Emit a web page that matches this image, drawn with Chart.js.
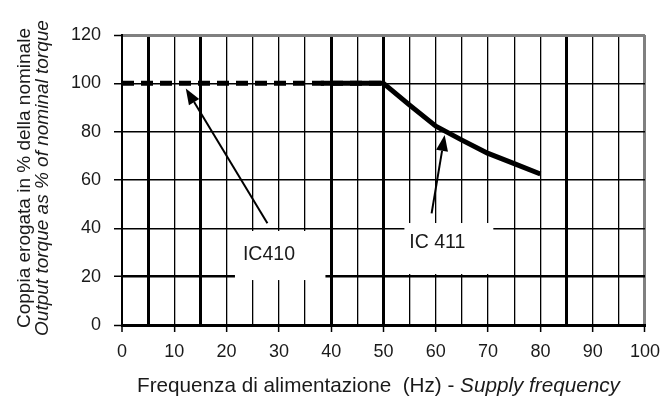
<!DOCTYPE html>
<html>
<head>
<meta charset="utf-8">
<script src="https://cdn.jsdelivr.net/npm/chart.js@4.4.1/dist/chart.umd.min.js"></script>
<style>
  html, body { margin: 0; padding: 0; background: #fff; }
  #wrap { position: relative; width: 669px; height: 401px; font-family: "Liberation Sans", Arial, sans-serif; color: #1a1a1a; }
  #yTitle { position: absolute; width: 340px; height: 36px; left: -137px; top: 160px; transform: rotate(-90deg);
            text-align: center; font-size: 19px; line-height: 18px; white-space: nowrap; }
  #xTitle { position: absolute; left: 137px; top: 373px; font-size: 20.7px; white-space: nowrap; }
  i { font-style: italic; }
</style>
</head>
<body>
<div id="wrap">
  <canvas id="chart" width="669" height="401"></canvas>
  <div id="yTitle">Coppia erogata in % della nominale<br><i>Output torque as % of nominal torque</i></div>
  <div id="xTitle">Frequenza di alimentazione&nbsp; (Hz) - <i>Supply frequency</i></div>
</div>
<script>
// curve data
const ic410Freq = [0, 50];
const ic410Torque = [100, 100];
const ic411Freq = [38, 50, 55, 60, 65, 70, 75, 80];
const ic411Torque = [100, 100, 91, 82.3, 76.5, 71, 66.8, 62.5];

// callouts (data coordinates)
const calloutText = ['IC410', 'IC 411'];
const calloutX = [28.1, 60.3];
const calloutY = [29.2, 34.1];
const boxLeft = [21.6, 54];
const boxRight = [38.9, 71];
const boxBottom = [18.6, 21.1];
const boxTop = [38.9, 42.2];
const arrowTailX = [27.8, 59.2];
const arrowTailY = [42.1, 46.2];
const arrowTipX = [12.2, 61.7];
const arrowTipY = [97.9, 78.6];

const thickX = [5, 15, 40, 50, 85];

const toPoints = (xs, ys) => xs.map((x, i) => ({ x: x, y: ys[i] }));

const calloutPlugin = {
    id: 'callouts',
    beforeDatasetsDraw(chart) {
        const ctx = chart.ctx, xs = chart.scales.x, ys = chart.scales.y;
        ctx.save();
        ctx.fillStyle = '#fff';
        for (let i = 0; i < calloutText.length; i++) {
            const x0 = xs.getPixelForValue(boxLeft[i]), x1 = xs.getPixelForValue(boxRight[i]);
            const y0 = ys.getPixelForValue(boxTop[i]), y1 = ys.getPixelForValue(boxBottom[i]);
            ctx.fillRect(x0, y0, x1 - x0, y1 - y0);
        }
        ctx.restore();
    },
    afterDatasetsDraw(chart) {
        const ctx = chart.ctx, xs = chart.scales.x, ys = chart.scales.y;
        ctx.save();
        for (let i = 0; i < calloutText.length; i++) {
            // arrow
            const tx = xs.getPixelForValue(arrowTailX[i]), ty = ys.getPixelForValue(arrowTailY[i]);
            const hx = xs.getPixelForValue(arrowTipX[i]), hy = ys.getPixelForValue(arrowTipY[i]);
            const ang = Math.atan2(hy - ty, hx - tx);
            const headLen = 16, headW = 6;
            const bx = hx - Math.cos(ang) * headLen, by = hy - Math.sin(ang) * headLen;
            ctx.strokeStyle = '#000';
            ctx.lineWidth = 2;
            ctx.beginPath();
            ctx.moveTo(tx, ty);
            ctx.lineTo(bx, by);
            ctx.stroke();
            ctx.fillStyle = '#000';
            ctx.beginPath();
            ctx.moveTo(hx, hy);
            ctx.lineTo(bx + Math.sin(ang) * headW, by - Math.cos(ang) * headW);
            ctx.lineTo(bx - Math.sin(ang) * headW, by + Math.cos(ang) * headW);
            ctx.closePath();
            ctx.fill();
            // label
            ctx.fillStyle = '#1a1a1a';
            ctx.font = '19.5px "Liberation Sans", Arial, sans-serif';
            ctx.textAlign = 'center';
            ctx.textBaseline = 'middle';
            ctx.fillText(calloutText[i], xs.getPixelForValue(calloutX[i]), ys.getPixelForValue(calloutY[i]));
        }
        ctx.restore();
    }
};

const tickFont = { family: '"Liberation Sans", Arial, sans-serif', size: 18 };

new Chart(document.getElementById('chart'), {
    type: 'scatter',
    data: {
        datasets: [
            {
                label: 'IC410',
                data: toPoints(ic410Freq, ic410Torque),
                showLine: true,
                borderColor: '#000',
                borderWidth: 5,
                borderDash: [12, 7],
                pointRadius: 0,
                tension: 0
            },
            {
                label: 'IC 411',
                data: toPoints(ic411Freq, ic411Torque),
                showLine: true,
                borderColor: '#000',
                borderWidth: 5,
                borderJoinStyle: 'round',
                pointRadius: 0,
                tension: 0
            }
        ]
    },
    options: {
        responsive: false,
        animation: false,
        layout: { padding: { top: 35, right: 20, left: 0, bottom: 0 } },
        plugins: { legend: { display: false }, tooltip: { enabled: false } },
        scales: {
            x: {
                type: 'linear',
                min: 0,
                max: 100,
                afterFit(scale) { scale.height = 76; },
                ticks: {
                    stepSize: 5,
                    autoSkip: false,
                    maxRotation: 0,
                    padding: 9,
                    color: '#1a1a1a',
                    font: tickFont,
                    callback: v => (v % 10 === 0 ? String(v) : '')
                },
                grid: {
                    tickLength: 7,
                    tickWidth: 1.5,
                    tickColor: c => (c.tick && c.tick.value % 10 === 0 ? '#000' : 'rgba(0,0,0,0)'),
                    color: c => (c.tick && c.tick.value === 100 ? '#808080' : '#000'),
                    lineWidth: c => {
                        const v = c.tick ? c.tick.value : 0;
                        if (v === 100) return 3;
                        if (v === 0) return 2;
                        return thickX.includes(v) ? 3 : 1.3;
                    }
                },
                border: { color: '#000', width: 3 }
            },
            y: {
                min: 0,
                max: 120,
                afterFit(scale) { scale.width = 122; },
                ticks: { stepSize: 20, padding: 13, color: '#1a1a1a', font: tickFont },
                grid: {
                    tickLength: 8,
                    tickWidth: 1.5,
                    tickColor: '#000',
                    color: c => (c.tick && c.tick.value === 120 ? '#808080' : '#000'),
                    lineWidth: c => {
                        const v = c.tick ? c.tick.value : 0;
                        if (v === 120 || v === 0) return 3;
                        if (v === 20) return 2.5;
                        return 1.5;
                    }
                },
                border: { color: '#000', width: 2 }
            }
        }
    },
    plugins: [calloutPlugin]
});
</script>
</body>
</html>
